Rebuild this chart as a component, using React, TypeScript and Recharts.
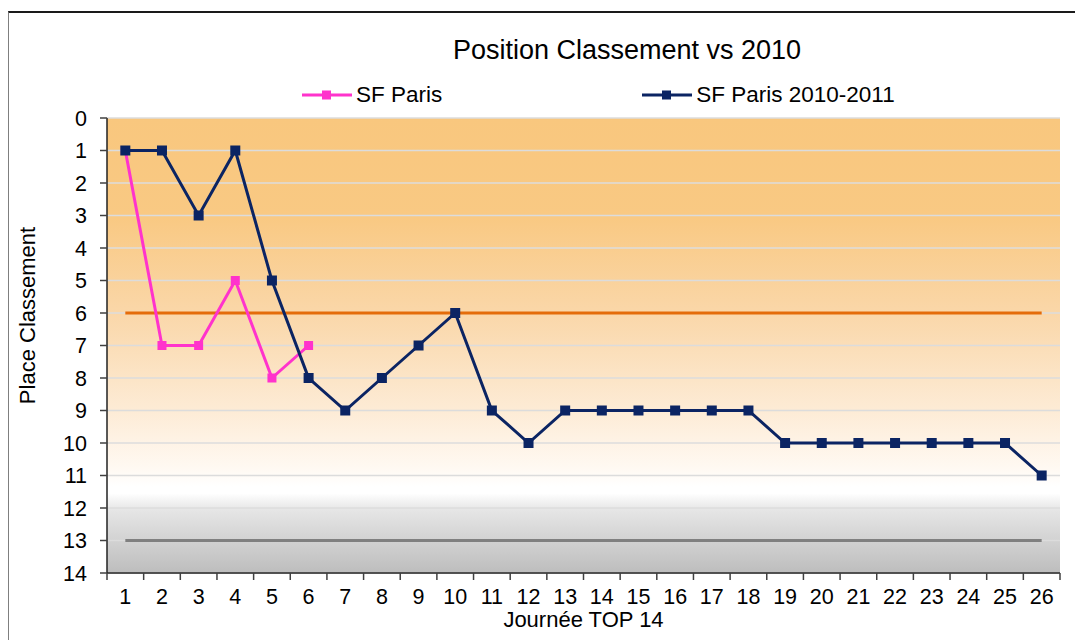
import React from 'react'
import {
  LineChart, Line, XAxis, YAxis, CartesianGrid, Legend, ReferenceLine, Label
} from 'recharts'

const days = [1, 2, 3, 4, 5, 6, 7, 8, 9, 10, 11, 12, 13, 14, 15, 16, 17, 18, 19, 20, 21, 22, 23, 24, 25, 26]
const sfParis = [1, 7, 7, 5, 8, 7]
const sfParisPrev = [1, 1, 3, 1, 5, 8, 9, 8, 7, 6, 9, 10, 9, 9, 9, 9, 9, 9, 10, 10, 10, 10, 10, 10, 10, 11]
const placeTicks = [0, 1, 2, 3, 4, 5, 6, 7, 8, 9, 10, 11, 12, 13, 14]
const topSixLimit = 6
const relegationLimit = 13

const series = [
  { key: 'sf', name: 'SF Paris', color: '#FF33CC' },
  { key: 'prev', name: 'SF Paris 2010-2011', color: '#0B2463' },
]

const data = days.map((d, i) => ({ day: d, sf: sfParis[i], prev: sfParisPrev[i] }))

// tick marks sit between the days, labels on the days (Excel style)
const dayTicks = [days[0] - 0.5, ...days.flatMap(d => [d, d + 0.5])]

const FONT = '"Liberation Sans", Arial, sans-serif'

const SquareDot = (size: number) => (props: any) => {
  const { cx, cy, stroke, index } = props
  if (cx == null || cy == null) return <g key={index} />
  return <rect key={index} x={cx - size / 2} y={cy - size / 2} width={size} height={size} fill={stroke} />
}

const DayTick = (props: any) => {
  const { x, y, payload } = props
  const v = payload.value
  if (Number.isInteger(v)) {
    return (
      <text x={x} y={y} dy={16} textAnchor="middle" fontSize={21.5} fontFamily={FONT} fill="#000">{v}</text>
    )
  }
  return <line x1={x} x2={x} y1={y - 15} y2={y - 8} stroke="#404040" strokeWidth={1.5} />
}

const LegendContent = () => (
  <div style={{ display: 'flex', fontFamily: FONT, fontSize: 22.5, color: '#000' }}>
    {series.map((s, i) => (
      <div key={s.key} style={{ display: 'flex', alignItems: 'center', marginRight: i === 0 ? 200 : 0 }}>
        <svg width={50} height={12} style={{ marginRight: 4 }}>
          <line x1={0} x2={50} y1={6} y2={6} stroke={s.color} strokeWidth={3} />
          <rect x={20} y={1.5} width={9} height={9} fill={s.color} />
        </svg>
        <span>{s.name}</span>
      </div>
    ))}
  </div>
)

export default function App() {
  return (
    <div style={{ position: 'absolute', left: 0, top: 0, width: 1075, height: 640, overflow: 'hidden', background: '#fff' }}>
      <div style={{ position: 'absolute', left: 8, top: 11, width: 1200, height: 800, borderTop: '2px solid #1a1a1a', borderLeft: '1.5px solid #7f7f7f' }} />
      <div style={{ position: 'absolute', left: 327, top: 37, width: 600, textAlign: 'center', fontFamily: FONT, fontSize: 27, lineHeight: '27px', color: '#000' }}>
        Position Classement vs 2010
      </div>
      <LineChart width={1075} height={640} data={data} margin={{ top: 118, right: 15, bottom: 0, left: 7 }}>
        <defs>
          <linearGradient id="bgFill" x1="0" y1="0" x2="0" y2="1">
            <stop offset="0" stopColor="#F9C77E" />
            <stop offset="0.22" stopColor="#F9C983" />
            <stop offset="0.43" stopColor="#FAD7A9" />
            <stop offset="0.64" stopColor="#FDEBD5" />
            <stop offset="0.77" stopColor="#FFF9F2" />
            <stop offset="0.81" stopColor="#FFFFFF" />
            <stop offset="0.825" stopColor="#FFFFFF" />
            <stop offset="0.86" stopColor="#E6E6E6" />
            <stop offset="1" stopColor="#BDBDBD" />
          </linearGradient>
        </defs>
        <CartesianGrid vertical={false} stroke="#dcdcdc" strokeWidth={1.5} fill="url(#bgFill)" fillOpacity={1} />
        <XAxis
          dataKey="day"
          type="number"
          domain={[dayTicks[0], dayTicks[dayTicks.length - 1]]}
          ticks={dayTicks}
          interval={0}
          height={67}
          tickSize={7}
          tickMargin={8}
          tickLine={false}
          tick={DayTick}
          axisLine={{ stroke: '#222', strokeWidth: 1.5 }}
        >
          <Label value="Journée TOP 14" position="insideBottom" offset={13} fontSize={22} fontFamily={FONT} fill="#000" />
        </XAxis>
        <YAxis
          type="number"
          reversed
          domain={[0, 14]}
          ticks={placeTicks}
          interval={0}
          width={100}
          tickSize={7}
          tickMargin={13}
          tick={{ fontSize: 21.5, fontFamily: FONT, fill: '#000' }}
          tickLine={{ stroke: '#404040', strokeWidth: 1.5 }}
          axisLine={{ stroke: '#222', strokeWidth: 1.5 }}
        >
          <Label
            content={(p: any) => {
              const vb = p.viewBox
              const cy = vb.y + vb.height / 2 - 30
              return (
                <text x={35} y={cy} transform={`rotate(-90, 35, ${cy})`} textAnchor="middle" fontSize={22} fontFamily={FONT} fill="#000">
                  Place Classement
                </text>
              )
            }}
          />
        </YAxis>
        <ReferenceLine
          segment={[{ x: days[0], y: topSixLimit }, { x: days[days.length - 1], y: topSixLimit }]}
          stroke="#E46C0A"
          strokeWidth={3}
        />
        <ReferenceLine
          segment={[{ x: days[0], y: relegationLimit }, { x: days[days.length - 1], y: relegationLimit }]}
          stroke="#808080"
          strokeWidth={3}
        />
        <Legend
          layout="horizontal"
          verticalAlign="middle"
          align="center"
          wrapperStyle={{ top: 82, left: 302, width: 'auto' }}
          content={<LegendContent />}
        />
        <Line dataKey="sf" name="SF Paris" stroke="#FF33CC" strokeWidth={3} dot={SquareDot(9)} activeDot={false} isAnimationActive={false} />
        <Line dataKey="prev" name="SF Paris 2010-2011" stroke="#0B2463" strokeWidth={3} dot={SquareDot(10)} activeDot={false} isAnimationActive={false} />
      </LineChart>
    </div>
  )
}
